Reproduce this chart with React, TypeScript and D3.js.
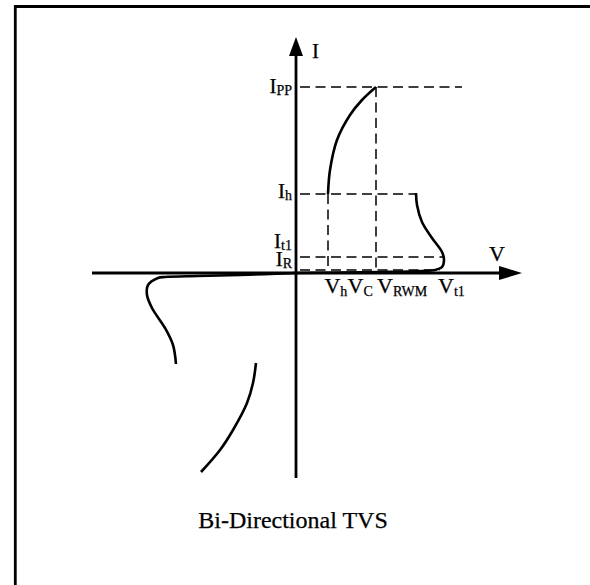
import * as React from 'react';
import * as d3 from 'd3';

// V-I characteristic of a bi-directional TVS (arbitrary units, origin at 0,0)
const currentLevels = [
  { name: 'I', sub: 'PP', value: 18.6, reach: 8.3 },
  { name: 'I', sub: 'h', value: 7.9, reach: 6.0 },
  { name: 'I', sub: 't1', value: 1.6, reach: 7.4 },
  { name: 'I', sub: 'R', value: 0.3, reach: 7.2 },
];
const currentLabelBaselines = [18.0, 7.5, 2.5, 0.7];

const voltageLevels = [
  { name: 'V', sub: 'h', value: 1.6, top: 7.9 },
  { name: 'V', sub: 'C', value: 4.0, top: 18.6 },
];
const voltageLabels = [
  { name: 'V', sub: 'h', at: 1.42 },
  { name: 'V', sub: 'C', at: 2.58 },
  { name: 'V', sub: 'RWM', at: 4.05 },
  { name: 'V', sub: 't1', at: 7.1 },
];

const clampCurve: [number, number][] = [
  [1.6, 7.9], [1.7, 10.3], [2.05, 13.3], [2.7, 15.8], [3.3, 17.3], [4.0, 18.6],
];
const forwardCurve: [number, number][] = [
  [6.0, 8.0], [6.05, 6.8], [6.3, 5.1], [6.8, 3.5], [7.3, 2.1], [7.4, 1.3],
  [7.3, 0.6], [6.95, 0.3], [6.3, 0.2], [4.2, 0.1], [0, 0],
];
const reverseCurve: [number, number][] = [
  [0, 0], [-2.8, -0.2], [-4.9, -0.3], [-6.55, -0.4], [-6.9, -0.5], [-7.4, -1.2],
  [-7.45, -2.2], [-7.2, -3.5], [-6.55, -5.5], [-6.15, -7.2], [-6.0, -9.1],
];
const reverseClampCurve: [number, number][] = [
  [-2.0, -9.0], [-2.15, -11.0], [-2.45, -13.0], [-3.15, -15.7], [-3.8, -17.7], [-4.75, -19.9],
];

const vDomain: [number, number] = [-10.2, 11.3];
const iDomain: [number, number] = [-20.5, 23.6];

const W = 590;
const H = 585;
const FONT = "'Liberation Serif', 'Times New Roman', serif";

export default function App() {
  const x = d3.scaleLinear().domain(vDomain).range([92, 522]);
  const y = d3.scaleLinear().domain(iDomain).range([478, 37]);
  const line = d3
    .line<[number, number]>()
    .x(d => x(d[0]))
    .y(d => y(d[1]))
    .curve(d3.curveCatmullRom.alpha(0.5));

  const x0 = x(0);
  const y0 = y(0);
  const dash = '10,5.5';
  // a hair of stroke so the serif glyphs read as dark as the reference
  const txt = { fontFamily: FONT, fill: '#000', stroke: '#000', strokeWidth: 0.25 };

  return (
    <svg width={W} height={H} style={{ position: 'absolute', left: 0, top: 0, background: '#fff' }}>
      {/* frame */}
      <path d={`M15.3,${H + 5}V6.5H${W + 5}`} fill="none" stroke="#000" strokeWidth={2.8} />

      {/* dashed guides */}
      {currentLevels.map(c => (
        <line key={c.sub} x1={x0 + 4} x2={x(c.reach)} y1={y(c.value)} y2={y(c.value)}
          stroke="#000" strokeWidth={1.5} strokeDasharray={dash} />
      ))}
      {voltageLevels.map(v => (
        <line key={v.sub} x1={x(v.value)} x2={x(v.value)} y1={y(v.top)} y2={y0 - 2}
          stroke="#000" strokeWidth={1.5} strokeDasharray={dash} />
      ))}

      {/* axes */}
      <line x1={x(vDomain[0])} x2={x(vDomain[1]) - 10} y1={y0} y2={y0} stroke="#000" strokeWidth={2.8} />
      <path d={`M${x(vDomain[1])},${y0}l-23,-7v14z`} fill="#000" />
      <line x1={x0} x2={x0} y1={y(iDomain[0])} y2={y(iDomain[1]) + 10} stroke="#000" strokeWidth={2.8} />
      <path d={`M${x0},${y(iDomain[1])}l-7,19h14z`} fill="#000" />

      {/* characteristic */}
      {[clampCurve, forwardCurve, reverseCurve, reverseClampCurve].map((c, i) => (
        <path key={i} d={line(c) || ''} fill="none" stroke="#000" strokeWidth={2.6} />
      ))}

      {/* labels */}
      <text x={x0 + 16} y={58} fontSize={21} style={txt}>I</text>
      <text x={489} y={261} fontSize={22} style={txt}>V</text>
      {currentLevels.map((c, i) => (
        <text key={c.sub} x={x0 - 4} y={y(currentLabelBaselines[i])} fontSize={21}
          textAnchor="end" style={txt}>
          {c.name}
          <tspan fontSize={14} dy={2}>{c.sub}</tspan>
        </text>
      ))}
      {voltageLabels.map(v => (
        <text key={v.sub} x={x(v.at)} y={293} fontSize={22} style={txt}>
          {v.name}
          <tspan fontSize={14} dy={3}>{v.sub}</tspan>
        </text>
      ))}
      <text x={293} y={528} fontSize={24} textAnchor="middle" style={txt}>Bi-Directional TVS</text>
    </svg>
  );
}
